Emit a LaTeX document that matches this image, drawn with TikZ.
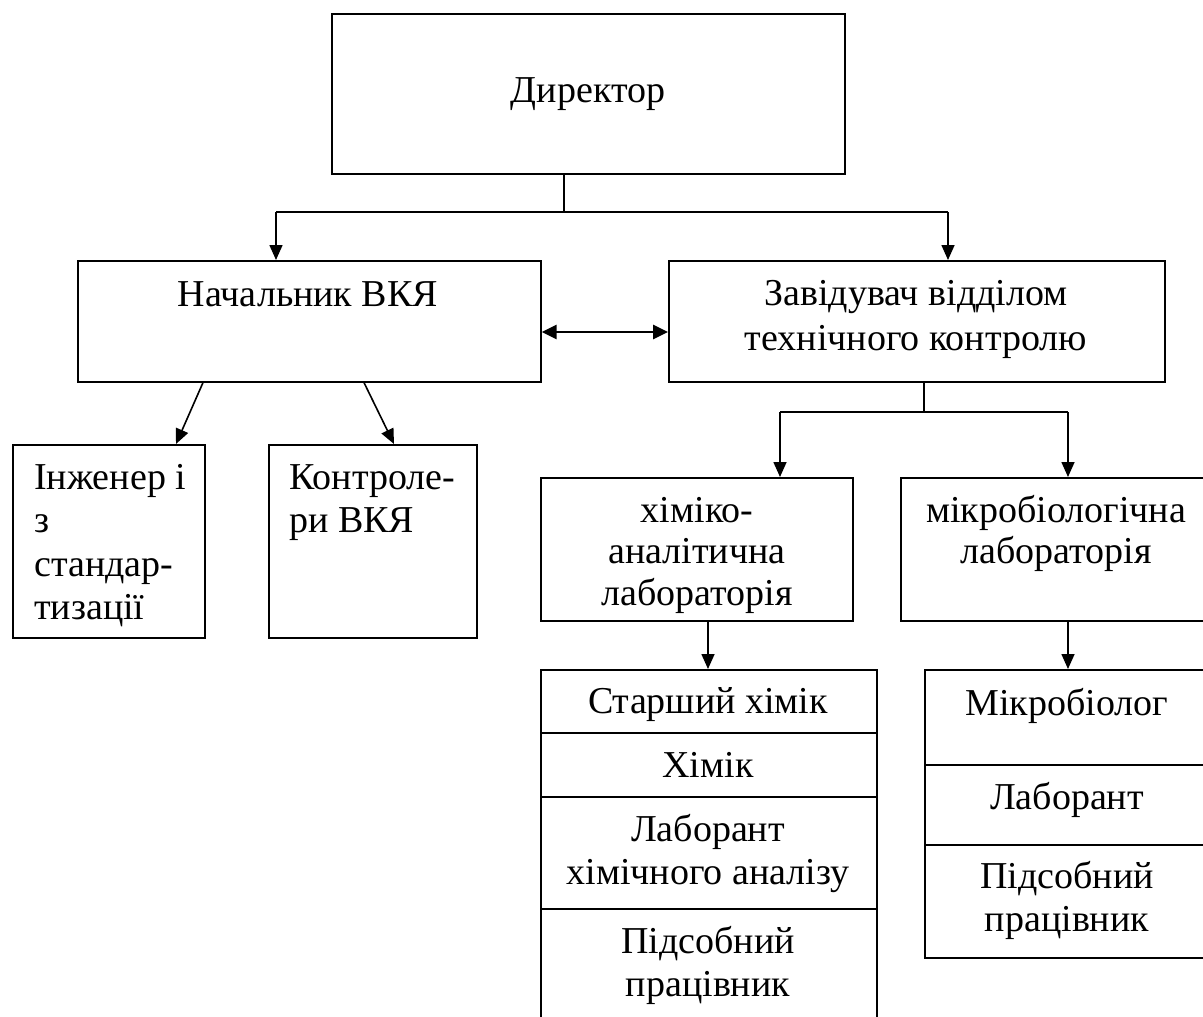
\documentclass[tikz,border=0pt]{standalone}
\usepackage{fontspec}
\setmainfont{Liberation Serif}
\usetikzlibrary{arrows.meta}
\begin{document}
\begin{tikzpicture}[x=1pt,y=-1pt,
  box/.style={draw, line width=1.6pt, rectangle, inner sep=0pt, anchor=north west},
  lbl/.style={inner sep=0pt, anchor=base, font=\fontsize{38}{43}\selectfont},
  lbll/.style={lbl, anchor=base west},
  ln/.style={line width=1.6pt},
  arr/.style={line width=1.6pt, -{Triangle[length=15pt,width=13pt]}},
  darr/.style={line width=2.6pt, {Triangle[length=15pt,width=14pt]}-{Triangle[length=15pt,width=14pt]}},
]
\useasboundingbox (0,0) rectangle (1203,1017);
% boxes
\node[box, minimum width=513pt, minimum height=160pt] (dir) at (331,13) {};
\node[box, minimum width=463pt, minimum height=121pt] (nach) at (77,260) {};
\node[box, minimum width=496pt, minimum height=121pt] (zav) at (668,260) {};
\node[box, minimum width=192pt, minimum height=193pt] (eng) at (12,444) {};
\node[box, minimum width=208pt, minimum height=193pt] (ctrl) at (268,444) {};
\node[box, minimum width=312pt, minimum height=143pt] (chem) at (540,477) {};
\node[box, minimum width=312pt, minimum height=143pt] (micro) at (900,477) {};
\node[box, minimum width=336pt, minimum height=400pt] (ls) at (540,669) {};
\node[box, minimum width=290pt, minimum height=288pt] (rs) at (924,669) {};
% dividers
\coordinate (d1) at (0,733);
\coordinate (d2) at (0,797);
\coordinate (d3) at (0,909);
\coordinate (d4) at (0,765);
\coordinate (d5) at (0,845);
\draw[ln] (ls.west |- d1) -- (ls.east |- d1);
\draw[ln] (ls.west |- d2) -- (ls.east |- d2);
\draw[ln] (ls.west |- d3) -- (ls.east |- d3);
\draw[ln] (rs.west |- d4) -- (rs.east |- d4);
\draw[ln] (rs.west |- d5) -- (rs.east |- d5);
% connectors
\coordinate (j1) at (564,212);
\coordinate (a1) at (276,212);
\coordinate (a2) at (948,212);
\draw[ln] (dir.south -| j1) -- (j1);
\draw[ln] (a1) -- (a2);
\draw[arr] (a1) -- (nach.north -| a1);
\draw[arr] (a2) -- (zav.north -| a2);
\coordinate (m1) at (0,332);
\draw[darr] (nach.east |- m1) -- (zav.west |- m1);
\coordinate (e1) at (203,0);
\coordinate (e2) at (176,0);
\coordinate (e3) at (364,0);
\coordinate (e4) at (394,0);
\draw[arr] (nach.south -| e1) -- (eng.north -| e2);
\draw[arr] (nach.south -| e3) -- (ctrl.north -| e4);
\coordinate (j2) at (924,412);
\coordinate (b1) at (780,412);
\coordinate (b2) at (1068,412);
\draw[ln] (zav.south -| j2) -- (j2);
\draw[ln] (b1) -- (b2);
\draw[arr] (b1) -- (chem.north -| b1);
\draw[arr] (b2) -- (micro.north -| b2);
\coordinate (c1) at (708,0);
\draw[arr] (chem.south -| c1) -- (ls.north -| c1);
\draw[arr] (micro.south -| b2) -- (rs.north -| b2);
% texts
\node[lbl] (t1) at (588,102) {Директор};
\node[lbl] (t2) at (308,306) {Начальник ВКЯ};
\node[lbl] (t3) at (916,305) {Завідувач відділом};
\node[lbl] (t4) at (916,350) {технічного контролю};
\node[lbll] (t5) at (34,489) {Інженер і};
\node[lbll] (t6) at (34,532) {з};
\node[lbll] (t7) at (34,576) {стандар-};
\node[lbll] (t8) at (34,619) {тизації};
\node[lbll] (t9) at (289,489) {Контроле-};
\node[lbll] (t10) at (289,532) {ри ВКЯ};
\node[lbl] (t11) at (697,522) {хіміко-};
\node[lbl] (t12) at (697,563) {аналітична};
\node[lbl] (t13) at (697,605) {лабораторія};
\node[lbl] (t14) at (1056,522) {мікробіологічна};
\node[lbl] (t15) at (1056,563) {лабораторія};
\node[lbl] (t16) at (708,713) {Старший хімік};
\node[lbl] (t17) at (708,777) {Хімік};
\node[lbl] (t18) at (708,841) {Лаборант};
\node[lbl] (t19) at (708,884) {хімічного аналізу};
\node[lbl] (t20) at (708,953) {Підсобний};
\node[lbl] (t21) at (708,996) {працівник};
\node[lbl] (t22) at (1067,715) {Мікробіолог};
\node[lbl] (t23) at (1067,809) {Лаборант};
\node[lbl] (t24) at (1067,888) {Підсобний};
\node[lbl] (t25) at (1067,931) {працівник};
\end{tikzpicture}
\end{document}
